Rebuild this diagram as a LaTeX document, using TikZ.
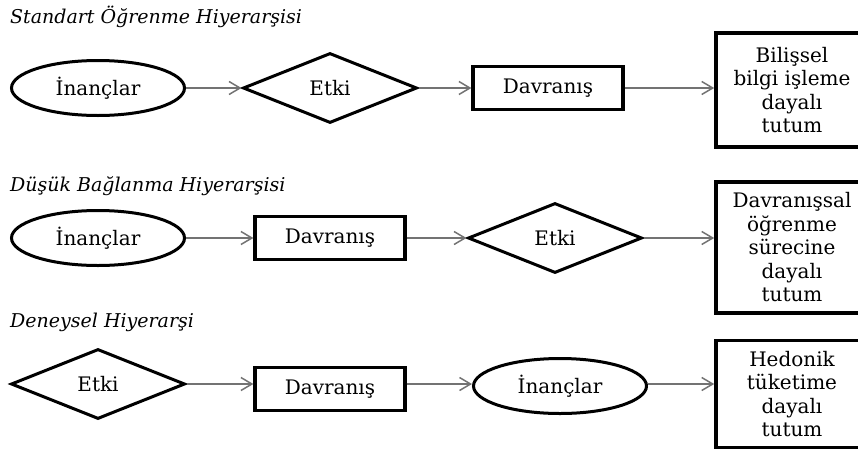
\documentclass[tikz,border=0pt]{standalone}
\usepackage{fontspec}
\setmainfont{DejaVu Serif}
\usetikzlibrary{shapes.geometric,arrows.meta}
\begin{document}
\begin{tikzpicture}[x=1pt,y=-1pt,
  every node/.style={inner sep=0pt,font=\fontsize{20}{23.5}\selectfont},
  oval/.style={draw,ellipse,line width=3pt,minimum width=173pt,minimum height=55pt},
  rhomb/.style={draw,diamond,line width=3pt,minimum width=174pt,minimum height=70pt},
  rect/.style={draw,rectangle,line width=3.2pt,minimum width=150pt,minimum height=43pt},
  result/.style={draw,rectangle,line width=3.6pt,minimum width=152pt,align=center},
  title/.style={anchor=west,font=\fontsize{19}{22}\selectfont\itshape},
  flow/.style={draw=black!55,line width=1.5pt,-{Straight Barb[length=11pt,width=13pt,line width=1.5pt]}}
]
\useasboundingbox (0,0) rectangle (858,450);

% Standart Öğrenme Hiyerarşisi
\node[title] (t1) at (10,17) {Standart Öğrenme Hiyerarşisi};
\node[oval]  (a1) at (98,88)  {İnançlar};
\node[rhomb] (b1) at (330,88) {Etki};
\node[rect]  (c1) at (548,88) {Davranış};
\node[result,minimum height=114pt] (r1) at (792,90) {Bilişsel\\bilgi işleme\\dayalı\\tutum};
\draw[flow] (a1.east) -- (b1.west);
\draw[flow] (b1.east) -- (c1.west);
\draw[flow] (c1.east) -- (c1.east -| r1.west);

% Düşük Bağlanma Hiyerarşisi
\node[title] (t2) at (10,186) {Düşük Bağlanma Hiyerarşisi};
\node[oval]  (a2) at (98,238)  {İnançlar};
\node[rect]  (b2) at (330,238) {Davranış};
\node[rhomb] (c2) at (555,238) {Etki};
\node[result,minimum height=131pt] (r2) at (792,247.5) {Davranışsal\\öğrenme\\sürecine\\dayalı\\tutum};
\draw[flow] (a2.east) -- (b2.west);
\draw[flow] (b2.east) -- (c2.west);
\draw[flow] (c2.east) -- (c2.east -| r2.west);

% Deneysel Hiyerarşi
\node[title] (t3) at (10,322) {Deneysel Hiyerarşi};
\node[rhomb] (a3) at (98,384)  {Etki};
\node[rect]  (b3) at (330,389) {Davranış};
\node[oval]  (c3) at (560,386) {İnançlar};
\node[result,minimum height=107pt] (r3) at (792,394) {Hedonik\\tüketime\\dayalı\\tutum};
\draw[flow] (a3.east) -- (a3.east -| b3.west);
\draw[flow] (a3.east -| b3.east) -- (a3.east -| c3.west);
\draw[flow] (a3.east -| c3.east) -- (a3.east -| r3.west);
\end{tikzpicture}
\end{document}
